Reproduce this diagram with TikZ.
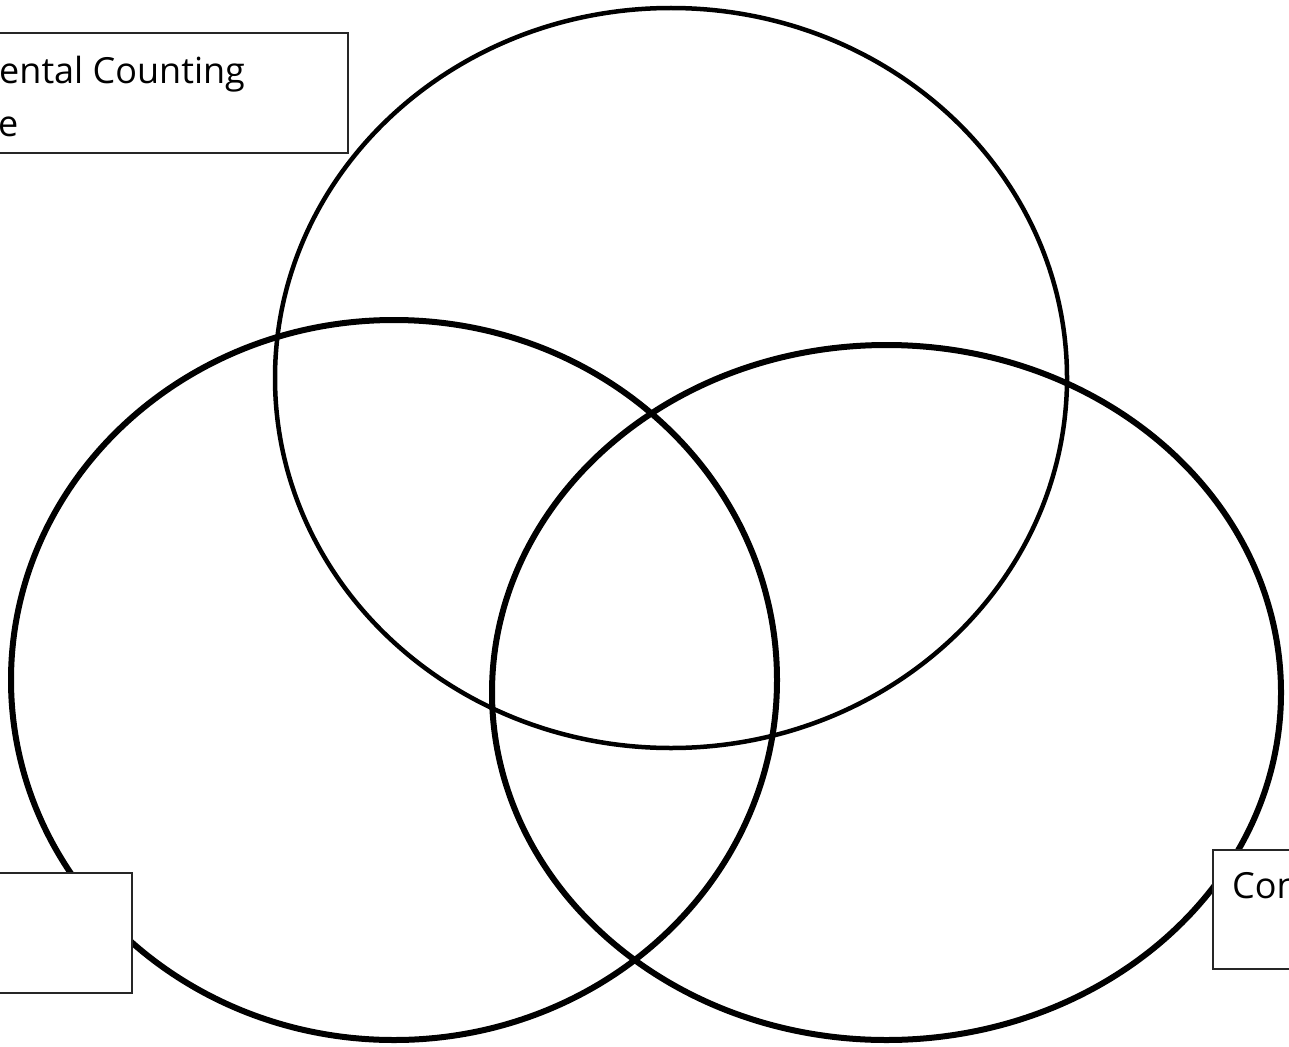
\documentclass[tikz,border=0pt]{standalone}
\usepackage{fontspec}
\setmainfont{Open Sans}
\begin{document}
\begin{tikzpicture}[x=1pt,y=-1pt,
  ring/.style={draw=black,line width=#1},
  labelbox/.style={draw=black!85,line width=1.6pt,fill=white},
  boxtext/.style={font=\fontsize{36}{42}\selectfont,inner sep=0pt,anchor=base west}]
\useasboundingbox (0,0) rectangle (1289,1046);
\clip (0,0) rectangle (1289,1046);
% circles
\draw[ring=4.5pt] (671,378) ellipse [x radius=396pt, y radius=370pt];
\draw[ring=6pt] (394,680) ellipse [x radius=383pt, y radius=360pt];
\draw[ring=6pt] (886.5,692.5) ellipse [x radius=394.5pt, y radius=347.5pt];
% boxes
\node[labelbox,anchor=north west,minimum width=367pt,minimum height=120pt,inner sep=0pt] (tl) at (-20,32) {};
\node[labelbox,anchor=north west,minimum width=151pt,minimum height=120pt,inner sep=0pt] (bl) at (-20,872) {};
\node[labelbox,anchor=north west,minimum width=100pt,minimum height=119pt,inner sep=0pt] (br) at (1212,849) {};
% texts
\node[boxtext] (t1) at (-1,84) {ental Counting};
\node[boxtext] (t2) at (-2,136) {e};
\node[boxtext] (t3) at (1232,898) {Con};
\end{tikzpicture}
\end{document}
